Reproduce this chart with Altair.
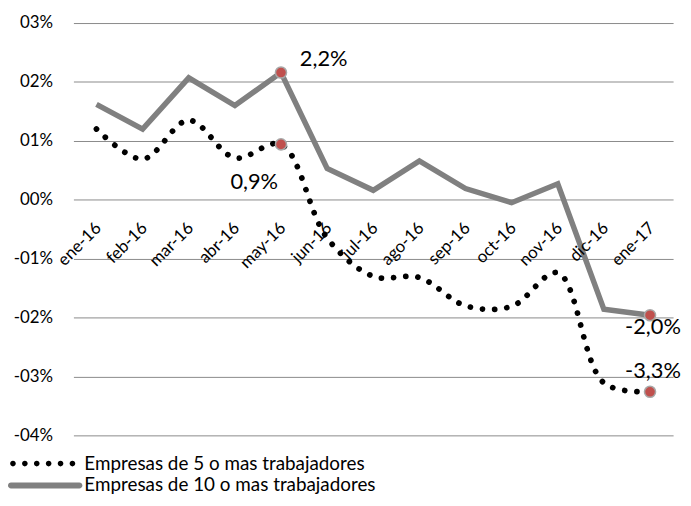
import altair as alt
import pandas as pd

# ---- data ----
months = ["ene-16", "feb-16", "mar-16", "abr-16", "may-16", "jun-16", "jul-16",
          "ago-16", "sep-16", "oct-16", "nov-16", "dic-16", "ene-17"]
emp10 = [1.62, 1.20, 2.07, 1.60, 2.16, 0.53, 0.16, 0.66, 0.19, -0.05, 0.27, -1.86, -1.96]
emp5 = [1.20, 0.69, 1.35, 0.71, 0.94, -0.65, -1.30, -1.32, -1.80, -1.81, -1.24, -3.11, -3.26]
series_names = ["Empresas de 5 o mas trabajadores", "Empresas de 10 o mas trabajadores"]
highlight_months = ["may-16", "ene-17"]
y_ticks = [-4, -3, -2, -1, 0, 1, 2, 3]

FONT = "Lato"
GRAY = "#808080"

rows = []
for s, vals in zip(series_names, [emp5, emp10]):
    for m, v in zip(months, vals):
        rows.append({"mes": m, "valor": v, "serie": s})
df = pd.DataFrame(rows)
hl = df[df["mes"].isin(highlight_months)].copy()
hl["etiqueta"] = hl["valor"].map(lambda v: f"{v:.1f}%".replace(".", ","))
months_df = pd.DataFrame({"mes": months})
legend_df = pd.DataFrame({"serie": series_names})

x_enc = alt.X("mes:N", sort=months,
              scale=alt.Scale(type="point", domain=months, padding=0.5), axis=None)
y_enc = alt.Y("valor:Q", scale=alt.Scale(domain=[-4, 3], nice=False, zero=False),
              axis=alt.Axis(values=y_ticks, title=None, grid=True, gridColor="#8a8a8a",
                            gridWidth=1, domain=False, ticks=False, labelPadding=21,
                            labelFont=FONT, labelFontSize=17, labelColor="black",
                            labelExpr="(datum.value < 0 ? '-' : '') + '0' + abs(datum.value) + '%'"))

base = alt.Chart(df).encode(x=x_enc, y=y_enc)

line10 = base.transform_filter(alt.datum.serie == series_names[1]).mark_line(
    color=GRAY, strokeWidth=5.5)
line5 = base.transform_filter(alt.datum.serie == series_names[0]).mark_line(
    color="black", strokeWidth=5.8, strokeDash=[0.01, 12.3], strokeCap="round",
    interpolate="catmull-rom")

pts = alt.Chart(hl).mark_circle(color="#c0504d", stroke="#a8a8a8", strokeWidth=1.5,
                                size=125, opacity=1).encode(x=x_enc, y=y_enc)

label_specs = [
    (series_names[1], "may-16", "left", 19, -14),
    (series_names[0], "may-16", "center", -27, 38),
    (series_names[1], "ene-17", "center", 3, 12),
    (series_names[0], "ene-17", "center", 3, -21),
]
label_layers = []
for s, m, al, dx, dy in label_specs:
    label_layers.append(
        alt.Chart(hl).transform_filter((alt.datum.serie == s) & (alt.datum.mes == m))
        .mark_text(align=al, baseline="middle", dx=dx, dy=dy, fontSize=22, font=FONT,
                   color="black")
        .encode(x=x_enc, y=y_enc, text="etiqueta:N")
    )

month_text = alt.Chart(months_df).mark_text(
    angle=315, align="right", baseline="middle", dx=-17, dy=20,
    fontSize=17, font=FONT, color="black"
).encode(x=x_enc, y=alt.datum(0), text="mes:N")

# legend via custom symbol paths (unit = 3px with symbolSize 36)
dot_centers = [-10.83, -6.83, -2.83, 1.17, 5.17, 9.17]
r = 0.95
dots_path = " ".join(
    f"M{c - r:.2f},0 A{r},{r} 0 1,0 {c + r:.2f},0 A{r},{r} 0 1,0 {c - r:.2f},0 Z"
    for c in dot_centers)
bar_path = "M-11.5,-1 L11.5,-1 A1,1 0 0 1 11.5,1 L-11.5,1 A1,1 0 0 1 -11.5,-1 Z"

leg = alt.Legend(title=None, orient="none", legendX=-66, legendY=435, direction="vertical",
                 symbolSize=36, symbolStrokeWidth=0, symbolOffset=28, labelOffset=30,
                 labelLimit=0,
                 labelFont=FONT, labelFontSize=19, labelColor="black", rowPadding=2,
                 padding=0, symbolOpacity=1)
legend_layer = alt.Chart(legend_df).mark_point(filled=True, opacity=0).encode(
    shape=alt.Shape("serie:N", scale=alt.Scale(domain=series_names, range=[dots_path, bar_path]),
                    legend=leg),
    fill=alt.Fill("serie:N", scale=alt.Scale(domain=series_names, range=["black", GRAY]),
                  legend=leg),
)

chart = alt.layer(line10, line5, pts, month_text, *label_layers, legend_layer).properties(
    width=605, height=416,
    autosize=alt.AutoSizeParams(type="none"),
    padding={"left": 66, "top": 13, "right": 10, "bottom": 60},
).configure_view(stroke=None)

chart.save("out.html", embed_options={"renderer": "svg", "actions": False})
